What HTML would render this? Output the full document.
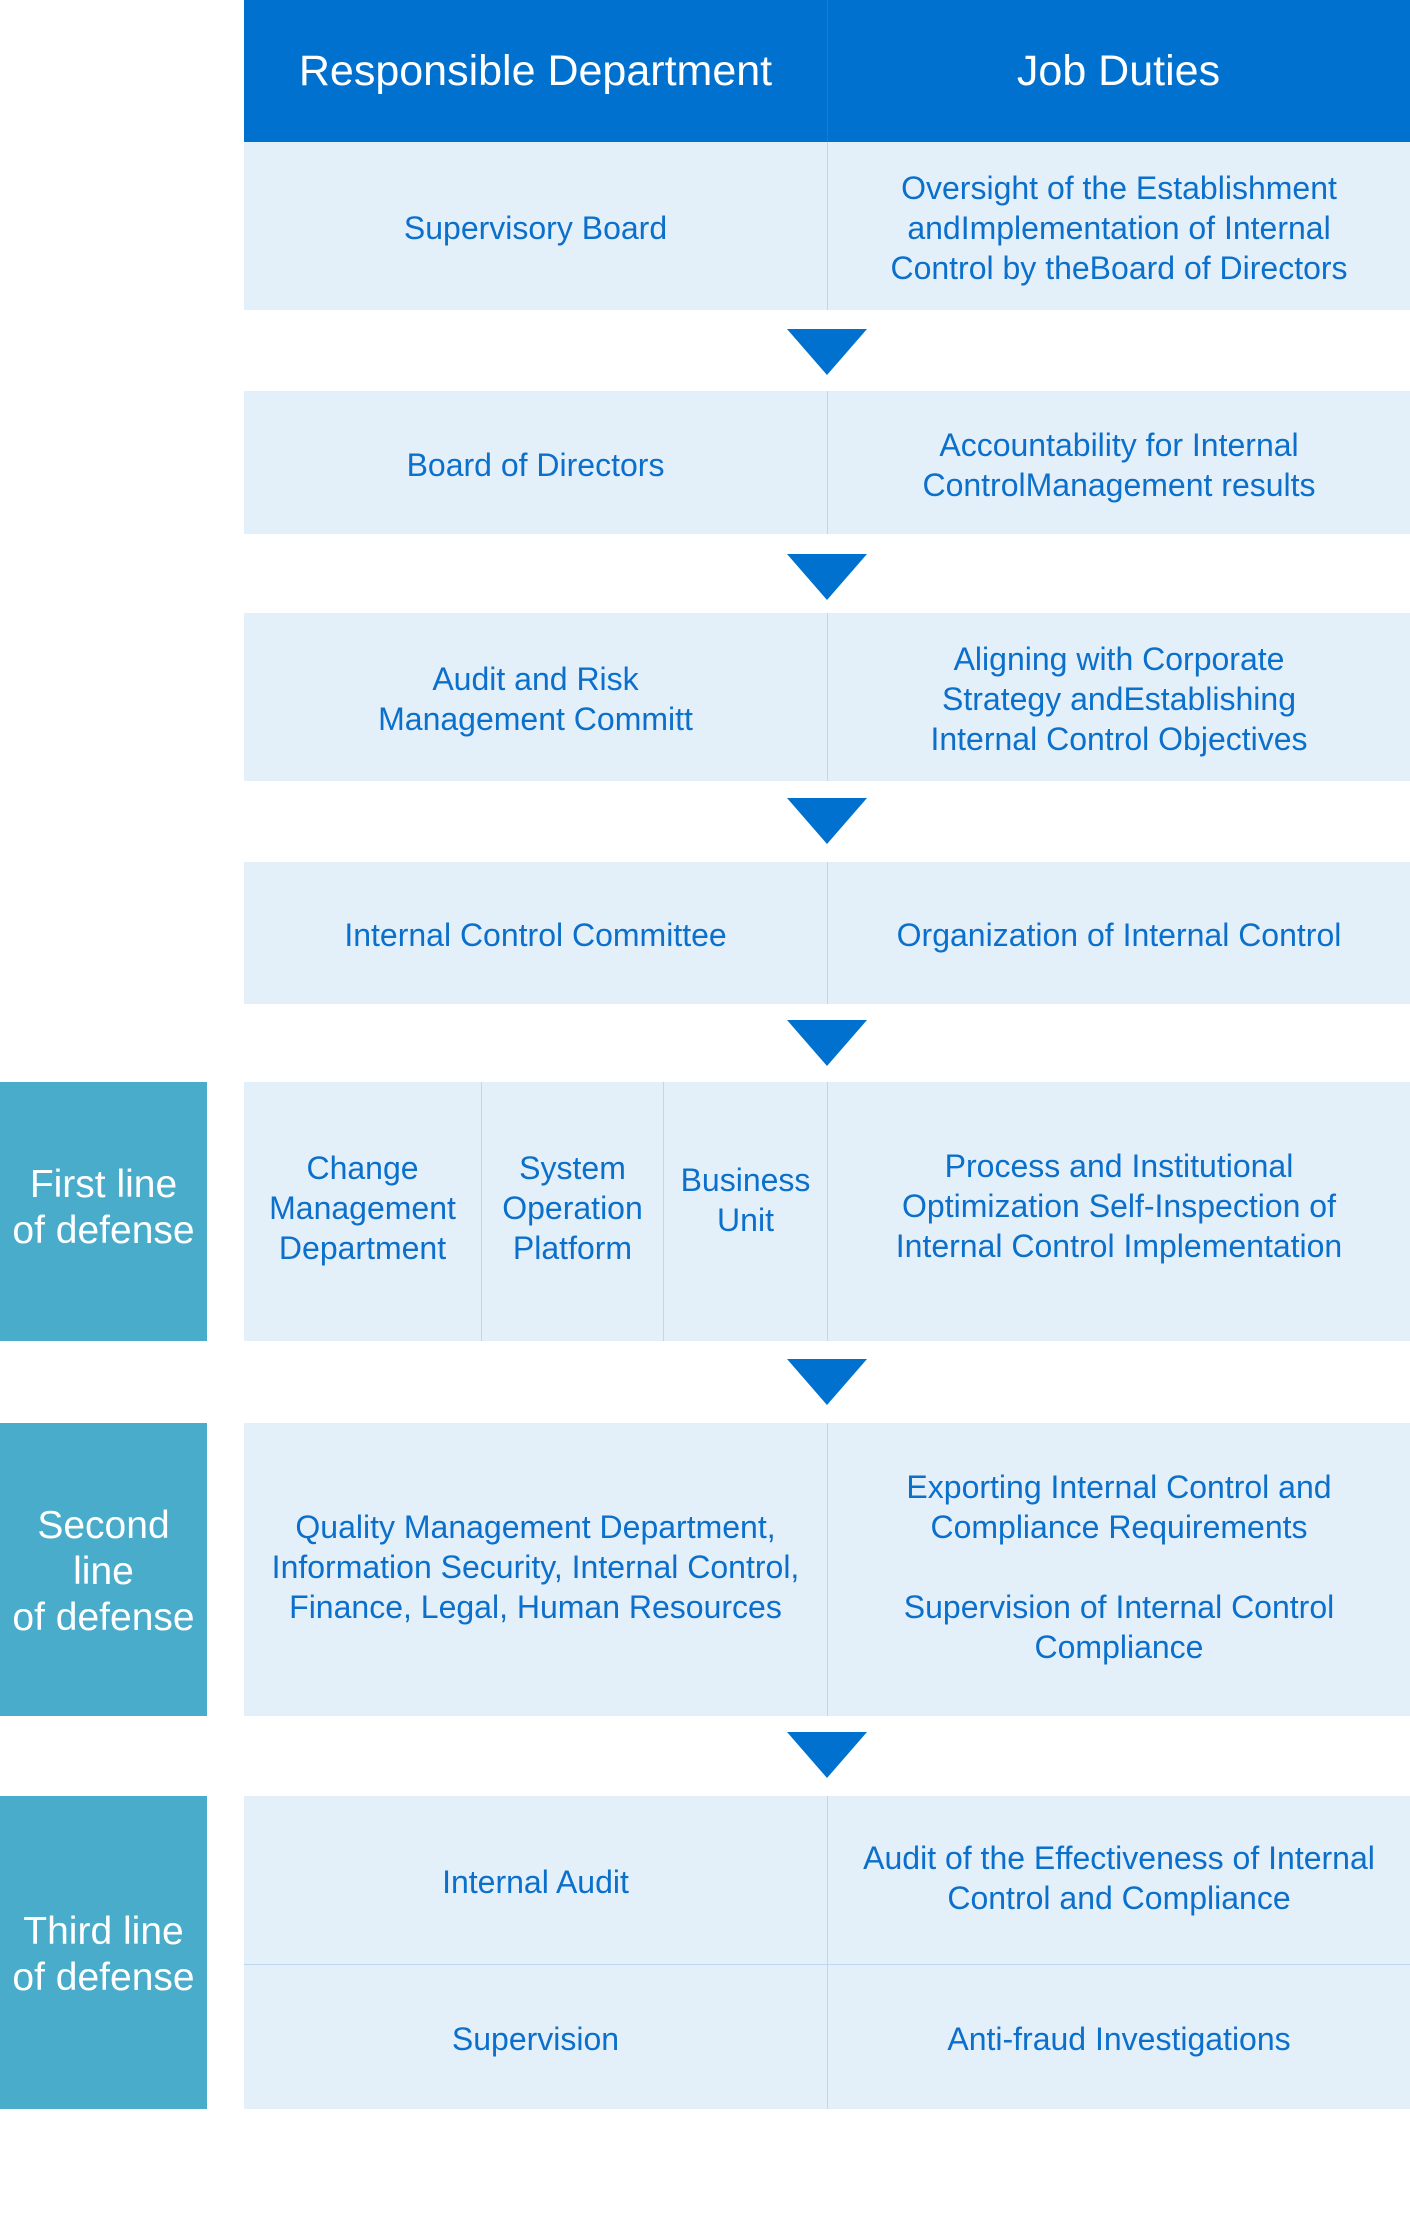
<!DOCTYPE html>
<html><head><meta charset="utf-8"><style>
html,body{margin:0;padding:0;background:#fff;}
body{width:1410px;height:2240px;position:relative;overflow:hidden;font-family:"Liberation Sans",sans-serif;}
.c{position:absolute;display:flex;align-items:center;justify-content:center;text-align:center;box-sizing:border-box;color:#0b6fcc;font-size:32px;line-height:40px;background:#e3eff9;padding-top:4px;}
.h{background:#0071ce;color:#fff;font-size:43px;padding-top:0;}
.s{background:#48acca;color:#fff;font-size:39px;line-height:46px;}
.v{position:absolute;width:1px;background:#bcd7ef;}
.hl{position:absolute;height:1px;background:#bcd7ef;}
.a{position:absolute;width:0;height:0;border-left:40px solid transparent;border-right:40px solid transparent;border-top:46px solid #0071ce;left:787px;}
</style></head><body>
<div class="c h" style="left:244px;top:0;width:583px;height:142px;">Responsible Department</div>
<div class="c h" style="left:827px;top:0;width:583px;height:142px;">Job Duties</div>
<div class="v" style="left:827px;top:0;height:142px;background:#1a7bd2"></div>

<div class="c" style="left:244px;top:142px;width:583px;height:168px;">Supervisory Board</div>
<div class="c" style="left:828px;top:142px;width:582px;height:168px;">Oversight of the Establishment<br>andImplementation of Internal<br>Control by theBoard of Directors</div>
<div class="v" style="left:827px;top:142px;height:168px;"></div>
<div class="a" style="top:329px;"></div>

<div class="c" style="left:244px;top:391px;width:583px;height:143px;">Board of Directors</div>
<div class="c" style="left:828px;top:391px;width:582px;height:143px;">Accountability for Internal<br>ControlManagement results</div>
<div class="v" style="left:827px;top:391px;height:143px;"></div>
<div class="a" style="top:554px;"></div>

<div class="c" style="left:244px;top:613px;width:583px;height:168px;">Audit and Risk<br>Management Committ</div>
<div class="c" style="left:828px;top:613px;width:582px;height:168px;">Aligning with Corporate<br>Strategy andEstablishing<br>Internal Control Objectives</div>
<div class="v" style="left:827px;top:613px;height:168px;"></div>
<div class="a" style="top:798px;"></div>

<div class="c" style="left:244px;top:862px;width:583px;height:142px;">Internal Control Committee</div>
<div class="c" style="left:828px;top:862px;width:582px;height:142px;">Organization of Internal Control</div>
<div class="v" style="left:827px;top:862px;height:142px;"></div>
<div class="a" style="top:1020px;"></div>

<div class="c s" style="left:0;top:1082px;width:207px;height:259px;padding-bottom:12px;">First line<br>of defense</div>
<div class="c" style="left:244px;top:1082px;width:237px;height:259px;padding-bottom:12px;">Change<br>Management<br>Department</div>
<div class="c" style="left:482px;top:1082px;width:181px;height:259px;padding-bottom:12px;">System<br>Operation<br>Platform</div>
<div class="c" style="left:664px;top:1082px;width:163px;height:259px;padding-bottom:28px;">Business<br>Unit</div>
<div class="c" style="left:828px;top:1082px;width:582px;height:259px;padding-bottom:16px;">Process and Institutional<br>Optimization Self-Inspection of<br>Internal Control Implementation</div>
<div class="v" style="left:481px;top:1082px;height:259px;"></div>
<div class="v" style="left:663px;top:1082px;height:259px;"></div>
<div class="v" style="left:827px;top:1082px;height:259px;"></div>
<div class="a" style="top:1359px;"></div>

<div class="c s" style="left:0;top:1423px;width:207px;height:293px;">Second<br>line<br>of defense</div>
<div class="c" style="left:244px;top:1423px;width:583px;height:293px;padding-bottom:10px;">Quality Management Department,<br>Information Security, Internal Control,<br>Finance, Legal, Human Resources</div>
<div class="c" style="left:828px;top:1423px;width:582px;height:293px;padding-bottom:10px;">Exporting Internal Control and<br>Compliance Requirements<br><br>Supervision of Internal Control<br>Compliance</div>
<div class="v" style="left:827px;top:1423px;height:293px;"></div>
<div class="a" style="top:1732px;"></div>

<div class="c s" style="left:0;top:1796px;width:207px;height:313px;">Third line<br>of defense</div>
<div class="c" style="left:244px;top:1796px;width:583px;height:168px;">Internal Audit</div>
<div class="c" style="left:828px;top:1796px;width:582px;height:168px;padding-bottom:8px;">Audit of the Effectiveness of Internal<br>Control and Compliance</div>
<div class="c" style="left:244px;top:1965px;width:583px;height:144px;">Supervision</div>
<div class="c" style="left:828px;top:1965px;width:582px;height:144px;">Anti-fraud Investigations</div>
<div class="v" style="left:827px;top:1796px;height:313px;"></div>
<div class="hl" style="left:244px;top:1964px;width:1166px;"></div>
</body></html>
